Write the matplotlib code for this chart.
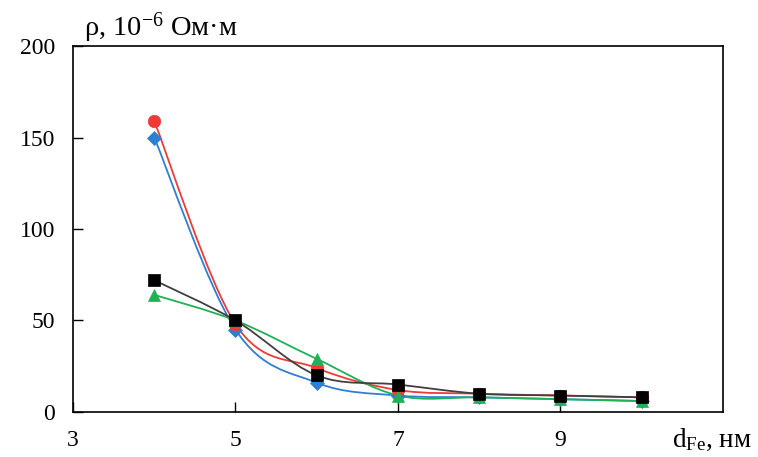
import matplotlib.pyplot as plt
from matplotlib.path import Path
from matplotlib.patches import PathPatch

plt.rcParams['font.family'] = ['Liberation Serif', 'DejaVu Serif']
plt.rcParams['mathtext.fontset'] = 'custom'
plt.rcParams['mathtext.rm'] = 'Liberation Serif'
plt.rcParams['mathtext.it'] = 'Liberation Serif:italic'

d_fe = [4, 5, 6, 7, 8, 9, 10]
rho_blue = [150, 45, 16, 9, 8, 7, 6]
rho_red = [159, 48, 24, 12, 10, 9, 8]
rho_green = [64, 50, 29, 9, 8, 7, 6]
rho_black = [72, 50, 20, 15, 10, 9, 8]

x_ticks = [3, 5, 7, 9]
y_ticks = [0, 50, 100, 150, 200]


def smooth_path(xs, ys):
    # Excel-like smoothed line: cubic Bezier through every point
    pts = list(zip(xs, ys))
    n = len(pts)
    verts = [pts[0]]
    codes = [Path.MOVETO]
    for i in range(n - 1):
        p0 = pts[i - 1] if i > 0 else pts[i]
        p1 = pts[i]
        p2 = pts[i + 1]
        p3 = pts[i + 2] if i + 2 < n else pts[i + 1]
        c1 = (p1[0] + (p2[0] - p0[0]) / 6, p1[1] + (p2[1] - p0[1]) / 6)
        c2 = (p2[0] - (p3[0] - p1[0]) / 6, p2[1] - (p3[1] - p1[1]) / 6)
        verts += [c1, c2, p2]
        codes += [Path.CURVE4] * 3
    return Path(verts, codes)


fig = plt.figure(figsize=(7.58, 4.57), dpi=100)
ax = fig.add_axes([0.0963, 0.0985, 0.8575, 0.8008])

series = [
    (rho_blue, '#2e7fd4', 'D', 7),
    (rho_red, '#ee3b36', 'o', 9),
    (rho_green, '#1fb155', '^', 9),
    (rho_black, '#000000', 's', 9),
]
line_colors = {'#000000': '#404040'}

for ys, color, marker, ms in series:
    lc = line_colors.get(color, color)
    ax.add_patch(PathPatch(smooth_path(d_fe, ys), facecolor='none',
                           edgecolor=lc, lw=1.3, zorder=2))
    ax.plot(d_fe, ys, linestyle='none', marker=marker, color=color,
            markersize=ms, markeredgewidth=0.5, zorder=3)

ax.set_xlim(3, 11)
ax.set_ylim(0, 200)
ax.set_xticks(x_ticks)
ax.set_yticks(y_ticks)
ax.tick_params(direction='in', length=7, width=1, labelsize=17, pad=13)
for s in ax.spines.values():
    s.set_linewidth(1.2)

fig.text(0.111, 0.94, 'ρ, 10$^{-6}$ Ом·м', fontsize=20.5, ha='left', va='center')
fig.text(0.886, 0.037, 'd$_{\\mathrm{Fe}}$, нм', fontsize=19.5, ha='left', va='center')

fig.savefig('out.png', dpi=100)
